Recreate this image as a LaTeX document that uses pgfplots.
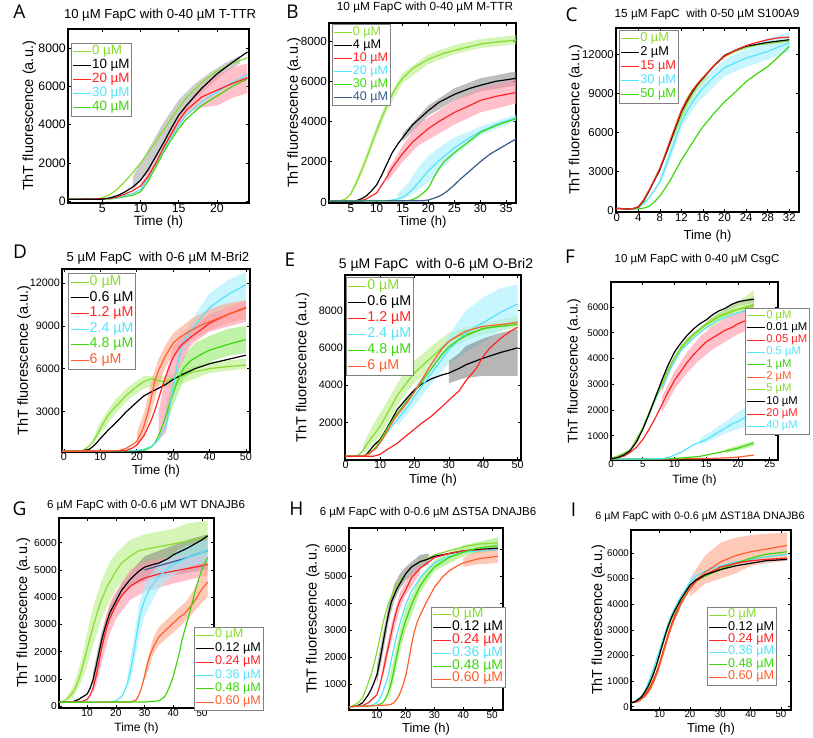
\documentclass[border=0pt]{standalone}
\usepackage{fontspec}
\setmainfont{Liberation Sans}
\newfontfamily\letterfont{Open Sans}
\usepackage{pgfplots}
\pgfplotsset{compat=1.18}
\definecolor{cLG}{RGB}{135,220,45}
\definecolor{cG}{RGB}{60,215,10}
\definecolor{cR}{RGB}{255,35,35}
\definecolor{cC}{RGB}{85,228,250}
\definecolor{cO}{RGB}{255,95,45}
\definecolor{cB}{RGB}{55,90,140}
\definecolor{bLG}{RGB}{185,238,135}
\definecolor{bK}{RGB}{110,110,110}
\definecolor{bR}{RGB}{255,150,168}
\definecolor{bC}{RGB}{165,238,255}
\definecolor{bO}{RGB}{255,165,135}
\definecolor{bG}{RGB}{150,235,110}
\pgfplotsset{
  panel/.style={scale only axis, anchor=north west, tick align=inside,
    axis line style={line width=1.1pt}, major tick length=3pt,
    every tick/.style={black, line width=0.6pt},
    /pgf/number format/assume math mode=true,
    /pgf/number format/1000 sep={},
    scaled y ticks=false, scaled x ticks=false,
    xticklabel style={inner sep=1pt},
    yticklabel style={inner sep=2pt},
    xlabel={Time (h)}, ylabel={ThT fluorescence (a.u.)},
    legend style={draw=gray, line width=0.7pt, fill=white, inner sep=1.5pt, cells={anchor=west}, row sep=0pt},
    legend image code/.code={\draw[##1, line width=0.9pt] (0pt,0pt) -- (18pt,0pt);},
  },
  tl/.style={ticklabel style={font=\fontsize{#1}{#1}\selectfont}},
  labs/.style n args={4}{xlabel style={font=\fontsize{#1}{#1}\selectfont, at={(axis description cs:0.5,-#4)}, anchor=center},
     ylabel style={font=\fontsize{#2}{#2}\selectfont, at={(axis description cs:-#3,0.5)}, anchor=center}},
  lg/.style n args={5}{legend style={at={(axis description cs:#1,#2)}, anchor=north west, font=\fontsize{#3}{#3}\selectfont, nodes={inner sep=0.6pt, text height=#4, text depth=#5}}},
  f/.style={forget plot, line width=1.2pt},
  bd/.style={forget plot, draw=none, fill=#1, fill opacity=0.6},
}
\begin{document}
\begin{tikzpicture}
\path[use as bounding box] (0pt,0pt) rectangle (813pt,738pt);
% panel letters
\node[font=\letterfont\fontsize{19}{19}\selectfont] at (19.5pt,726pt) {A};
\node[font=\letterfont\fontsize{19}{19}\selectfont] at (292.5pt,726pt) {B};
\node[font=\letterfont\fontsize{19}{19}\selectfont] at (571.5pt,723pt) {C};
\node[font=\letterfont\fontsize{19}{19}\selectfont] at (20pt,486.5pt) {D};
\node[font=\letterfont\fontsize{19}{19}\selectfont] at (290pt,478pt) {E};
\node[font=\letterfont\fontsize{19}{19}\selectfont] at (570pt,481pt) {F};
\node[font=\letterfont\fontsize{19}{19}\selectfont] at (19.5pt,229pt) {G};
\node[font=\letterfont\fontsize{19}{19}\selectfont] at (296.5pt,229.5pt) {H};
\node[font=\letterfont\fontsize{19}{19}\selectfont] at (573.5pt,228.5pt) {I};
% titles
\node[font=\fontsize{13.1}{13}\selectfont] at (160pt,723pt) {10 µM FapC with 0-40 µM T-TTR};
\node[font=\fontsize{11.8}{12}\selectfont] at (425pt,730.5pt) {10 µM FapC with 0-40 µM M-TTR};
\node[font=\fontsize{11.8}{12}\selectfont] at (707pt,724pt) {15 µM FapC\ \ with 0-50 µM S100A9};
\node[font=\fontsize{13.1}{13}\selectfont] at (158pt,480pt) {5 µM FapC\ \ with 0-6 µM M-Bri2};
\node[font=\fontsize{14}{14}\selectfont] at (436pt,473pt) {5 µM FapC\ \ with 0-6 µM O-Bri2};
\node[font=\fontsize{11.5}{12}\selectfont] at (697pt,478pt) {10 µM FapC with 0-40 µM CsgC};
\node[font=\fontsize{11.5}{12}\selectfont] at (146pt,232pt) {6 µM FapC with 0-0.6 µM WT DNAJB6};
\node[font=\fontsize{11.5}{12}\selectfont] at (428pt,225pt) {6 µM FapC with 0-0.6 µM ΔST5A DNAJB6};
\node[font=\fontsize{10.8}{11}\selectfont] at (700pt,221pt) {6 µM FapC with 0-0.6 µM ΔST18A DNAJB6};

%================ A
\begin{axis}[panel, at={(68pt,709pt)}, width=181pt, height=174pt,
  xmin=0.5, xmax=24.2, ymin=-90, ymax=9000, xtick={5,10,15,20}, ytick={0,2000,4000,6000,8000},
  tl=12.3, labs={13.4}{14.5}{0.213}{0.108}, lg={0.015}{0.921}{13.4}{9.2pt}{3.6pt}]
\addplot[bd=bK, fill opacity=0.35] coordinates {(9,1300)(11,2700)(13,4100)(15,5300)(17,6100)(19,6700)(21,7200)(23,7600)(23,7200)(21,6700)(19,6000)(17,5300)(15,4300)(13,2900)(11,1500)(9,600)};
\addplot[bd=bR] coordinates {(10,900)(12,2150)(14,3700)(16,5000)(17,5600)(18,6000)(20,6600)(22,7000)(24,7200)(24,5650)(22,5400)(20,5000)(18,4900)(17,4750)(16,4500)(14,3300)(12,1850)(10,700)};
\addplot[f,cLG] coordinates {(0.5,100)(4,120)(5,180)(6,350)(7,650)(8,1050)(9,1500)(10,2000)(11,2550)(12,3100)(13,3700)(14,4300)(15,4900)(16,5400)(18,6200)(20,6800)(22,7200)(24,7500)};
\addplot[f,cG] coordinates {(0.5,100)(6,120)(7,170)(8,250)(9,320)(10,500)(11,1050)(12,1800)(13,2550)(14,3200)(15,3800)(16,4300)(18,5000)(20,5500)(22,6000)(24,6400)};
\addplot[f,cC] coordinates {(0.5,100)(6,130)(7,200)(8,300)(9,420)(10,620)(11,1200)(12,2000)(13,2700)(14,3350)(15,3950)(16,4500)(18,5200)(20,5700)(22,6200)(24,6600)};
\addplot[f,cR] coordinates {(0.5,100)(6,140)(7,230)(8,380)(9,560)(10,800)(11,1300)(12,2000)(13,2800)(14,3500)(15,4200)(16,4750)(18,5450)(20,5800)(22,6150)(24,6450)};
\addplot[f,black] coordinates {(0.5,100)(5,110)(6,180)(7,300)(8,500)(9,750)(10,1100)(11,1650)(12,2350)(13,3050)(14,3800)(15,4500)(16,5000)(18,5900)(20,6650)(22,7250)(24,7800)};
\addlegendimage{cLG}\addlegendentry{\textcolor{cLG}{0 µM}}
\addlegendimage{black}\addlegendentry{10 µM}
\addlegendimage{cR}\addlegendentry{\textcolor{cR}{20 µM}}
\addlegendimage{cC}\addlegendentry{\textcolor{cC}{30 µM}}
\addlegendimage{cG}\addlegendentry{\textcolor{cG}{40 µM}}
\end{axis}

%================ B
\begin{axis}[panel, at={(329pt,715pt)}, width=187pt, height=180pt,
  xmin=0.8, xmax=36.9, ymin=-50, ymax=8900, xtick={5,10,...,35}, ytick={0,2000,4000,6000,8000},
  tl=11.7, labs={13}{14.5}{0.187}{0.104}, lg={0.014}{0.994}{12.6}{8.5pt}{3.3pt}]
\addplot[bd=bLG] coordinates {(5,500)(7,1700)(10,3800)(12,5050)(15,6400)(20,7350)(25,7800)(30,8100)(37,8300)(37,7850)(30,7650)(25,7350)(20,6850)(15,5900)(12,4550)(10,3300)(7,1300)(5,300)};
\addplot[bd=bK, fill opacity=0.45] coordinates {(15,3400)(20,4800)(25,5650)(30,6150)(37,6500)(37,5800)(30,5500)(25,5050)(20,4300)(15,3000)};
\addplot[bd=bR] coordinates {(12,1500)(15,2800)(18,3900)(20,4200)(25,5050)(30,5650)(37,6100)(37,4900)(30,4450)(25,3850)(20,3100)(18,2800)(15,2000)(12,1000)};
\addplot[bd=bC] coordinates {(14,400)(16,900)(18,1700)(20,2300)(22,2700)(25,3200)(30,3750)(37,4350)(37,4050)(30,3300)(25,2300)(22,1500)(20,1000)(18,600)(16,250)(14,80)};
\addplot[f,cLG] coordinates {(0.8,50)(3,60)(4,150)(5,400)(6,900)(7,1500)(8,2150)(9,2850)(10,3550)(11,4200)(12,4800)(13,5350)(14,5800)(15,6150)(17,6650)(20,7100)(23,7400)(26,7600)(30,7850)(33,7950)(37,8050)};
\addplot[f,black] coordinates {(0.8,50)(6,60)(7,150)(8,300)(9,550)(10,850)(11,1350)(12,1900)(13,2450)(14,2850)(15,3200)(17,3850)(20,4550)(22,4950)(25,5350)(28,5650)(30,5800)(33,6000)(37,6150)};
\addplot[f,cR] coordinates {(0.8,50)(7,60)(8,150)(9,300)(10,450)(11,850)(12,1250)(13,1700)(14,2050)(15,2400)(17,3000)(20,3650)(22,4000)(25,4450)(28,4800)(30,5050)(33,5250)(37,5450)};
\addplot[f,cC] coordinates {(0.8,50)(12,60)(13,100)(14,150)(15,220)(16,400)(17,650)(18,950)(19,1250)(20,1550)(22,2050)(25,2700)(28,3200)(30,3500)(33,3850)(37,4200)};
\addplot[f,cG] coordinates {(0.8,50)(16,60)(17,120)(18,250)(19,450)(20,700)(21,1200)(22,1650)(23,2000)(25,2450)(28,3050)(30,3450)(33,3800)(37,4150)};
\addplot[f,cB] coordinates {(0.8,50)(19,60)(20,100)(21,180)(22,280)(23,420)(24,620)(25,850)(26,1100)(28,1550)(30,2000)(32,2400)(35,2850)(37,3150)};
\addlegendimage{cLG}\addlegendentry{\textcolor{cLG}{0 µM}}
\addlegendimage{black}\addlegendentry{4 µM}
\addlegendimage{cR}\addlegendentry{\textcolor{cR}{10 µM}}
\addlegendimage{cC}\addlegendentry{\textcolor{cC}{20 µM}}
\addlegendimage{cG}\addlegendentry{\textcolor{cG}{30 µM}}
\addlegendimage{cB}\addlegendentry{\textcolor{cB}{40 µM}}
\end{axis}

%================ C
\begin{axis}[panel, at={(616pt,710pt)}, width=183pt, height=184pt,
  xmin=-0.13, xmax=33.8, ymin=-77, ymax=14000, xtick={0,4,...,32}, ytick={0,3000,6000,9000,12000},
  tl=11.4, labs={13}{14.5}{0.221}{0.133}, lg={0.016}{0.989}{12.8}{9.3pt}{3.5pt}]
\addplot[bd=bC] coordinates {(8,2600)(10,4900)(12,7300)(14,8900)(16,10100)(20,11600)(24,12400)(28,13200)(32,13700)(32,12200)(28,11600)(24,11000)(20,10300)(16,8700)(14,7700)(12,6300)(10,4000)(8,1900)};
\addplot[bd=bLG] coordinates {(9,4400)(11,6800)(13,8800)(15,9800)(17,10800)(17,10200)(15,9300)(13,7900)(11,6000)(9,3900)};
\addplot[f,cG] coordinates {(-0.1,200)(3,150)(4,170)(5,220)(6,350)(7,700)(8,1150)(9,1750)(10,2400)(11,3150)(12,3900)(13,4550)(14,5200)(15,5850)(16,6450)(18,7450)(20,8350)(22,9100)(24,9900)(26,10500)(28,11050)(30,11800)(32,12600)};
\addplot[f,cC] coordinates {(-0.1,200)(3,150)(4,250)(5,550)(6,1000)(7,1600)(8,2250)(9,3300)(10,4450)(11,5650)(12,6800)(13,7600)(14,8300)(15,8900)(16,9400)(18,10250)(20,10950)(22,11350)(24,11700)(26,11950)(28,12200)(30,12550)(32,12850)};
\addplot[f,cLG] coordinates {(-0.1,200)(1,180)(2,150)(3,170)(4,300)(5,700)(6,1500)(7,2400)(8,3300)(9,4300)(10,5300)(11,6300)(12,7300)(13,8200)(14,8900)(15,9600)(16,10200)(18,11100)(20,11800)(22,12200)(24,12500)(26,12700)(28,12800)(30,12900)(32,13000)};
\addplot[f,black] coordinates {(-0.1,200)(2,150)(3,180)(4,300)(5,800)(6,1550)(7,2350)(8,3150)(9,4250)(10,5350)(11,6500)(12,7600)(13,8400)(14,9100)(15,9700)(16,10150)(18,11100)(20,11900)(22,12300)(24,12600)(26,12750)(28,12900)(30,13000)(32,13100)};
\addplot[f,cR] coordinates {(-0.1,200)(2,150)(3,180)(4,320)(5,850)(6,1600)(7,2400)(8,3250)(9,4350)(10,5500)(11,6600)(12,7700)(13,8500)(14,9200)(15,9750)(16,10200)(18,11100)(20,11850)(22,12300)(24,12650)(26,12900)(28,13100)(30,13250)(32,13300)};
\addlegendimage{cLG}\addlegendentry{\textcolor{cLG}{0 µM}}
\addlegendimage{black}\addlegendentry{2 µM}
\addlegendimage{cR}\addlegendentry{\textcolor{cR}{15 µM}}
\addlegendimage{cC}\addlegendentry{\textcolor{cC}{30 µM}}
\addlegendimage{cG}\addlegendentry{\textcolor{cG}{50 µM}}
\end{axis}

%================ D
\begin{axis}[panel, at={(62pt,469pt)}, width=188pt, height=183pt,
  xmin=-0.55, xmax=51.1, ymin=150, ymax=13000, xtick={0,10,...,50}, ytick={3000,6000,9000,12000},
  tl=10.8, labs={13}{14.5}{0.202}{0.107}, lg={0.034}{0.980}{14.2}{10.4pt}{4pt}]
\addplot[bd=bLG] coordinates {(8,1100)(10,2300)(14,3800)(18,4800)(22,5500)(25,5500)(28,5500)(32,5900)(40,6500)(50,6700)(50,6000)(40,5700)(32,4900)(28,4700)(25,4800)(22,4600)(18,3900)(14,2800)(10,1400)(8,700)};
\addplot[bd=bC] coordinates {(28,2600)(30,5400)(32,8000)(35,9400)(40,11300)(45,12200)(50,12800)(50,10800)(45,10300)(40,9400)(35,8000)(32,6600)(30,4000)(28,1500)};
\addplot[bd=bG] coordinates {(28,3400)(30,5200)(33,6900)(36,7800)(40,8300)(45,8800)(50,9000)(50,7100)(45,6900)(40,6500)(36,6000)(33,5300)(30,3400)(28,2000)};
\addplot[bd=bO] coordinates {(20,1500)(22,2900)(24,5100)(26,6700)(28,7700)(30,8500)(35,9500)(40,10200)(45,10600)(50,10800)(50,9500)(45,9200)(40,8700)(35,8000)(30,7000)(28,6200)(26,4800)(24,3000)(22,1300)(20,500)};
\addplot[bd=bR] coordinates {(26,3000)(28,5500)(30,7600)(35,8900)(40,9800)(50,10800)(50,9300)(40,8600)(35,7700)(30,5200)(28,1500)(26,1000)};
\addplot[f,cLG] coordinates {(-0.5,200)(5,250)(6,400)(7,600)(8,900)(9,1300)(10,1800)(12,2700)(14,3300)(15,3550)(17,4100)(20,4750)(22,5100)(24,5300)(26,5150)(28,5100)(30,5300)(33,5550)(36,5800)(40,6000)(45,6150)(50,6250)};
\addplot[f,black] coordinates {(-0.5,200)(5,220)(7,350)(8,550)(9,800)(10,1100)(12,1650)(14,2150)(15,2400)(17,2950)(20,3650)(22,4100)(25,4500)(28,4900)(30,5250)(33,5650)(36,6000)(40,6350)(45,6650)(50,6950)};
\addplot[f,cG] coordinates {(-0.5,200)(22,250)(24,500)(25,800)(26,1300)(27,1950)(28,2700)(29,3500)(30,4300)(31,5000)(33,6100)(35,6600)(38,7050)(40,7300)(45,7700)(50,8050)};
\addplot[f,cC] coordinates {(-0.5,200)(20,250)(22,350)(24,550)(25,750)(26,1050)(27,1500)(28,2000)(29,3200)(30,4700)(31,6100)(32,7300)(33,8000)(35,8700)(38,9700)(40,10300)(45,11200)(50,11900)};
\addplot[f,cR] coordinates {(-0.5,200)(17,250)(19,450)(20,650)(22,1300)(24,2400)(25,3100)(26,3900)(27,4750)(28,5500)(29,6200)(30,6800)(32,7600)(35,8250)(38,8800)(40,9200)(45,9800)(50,10300)};
\addplot[f,cO] coordinates {(-0.5,200)(15,250)(17,400)(19,700)(20,900)(21,1400)(22,2000)(23,2900)(24,4000)(25,5200)(26,5900)(28,6950)(30,7800)(32,8250)(35,8700)(38,9100)(40,9300)(45,9800)(50,10250)};
\addlegendimage{cLG}\addlegendentry{\textcolor{cLG}{0 µM}}
\addlegendimage{black}\addlegendentry{0.6 µM}
\addlegendimage{cR}\addlegendentry{\textcolor{cR}{1.2 µM}}
\addlegendimage{cC}\addlegendentry{\textcolor{cC}{2.4 µM}}
\addlegendimage{cG}\addlegendentry{\textcolor{cG}{4.8 µM}}
\addlegendimage{cO}\addlegendentry{\textcolor{cO}{6 µM}}
\end{axis}

%================ E
\begin{axis}[panel, at={(345pt,463pt)}, width=176pt, height=185pt,
  xmin=-0.2, xmax=51, ymin=0, ymax=9900, xtick={0,10,...,50}, ytick={2000,4000,6000,8000},
  tl=10.8, labs={13}{14.5}{0.241}{0.111}, lg={0.006}{0.991}{14.2}{10.6pt}{4.1pt}]
\addplot[bd=bLG] coordinates {(5,800)(8,1900)(10,2500)(12,3100)(15,4100)(18,4900)(20,5300)(25,6100)(30,6800)(35,7100)(40,7300)(50,7700)(50,7100)(40,6700)(35,6400)(30,5900)(25,5000)(20,4100)(18,3700)(15,2900)(12,1900)(10,1300)(8,900)(5,300)};
\addplot[bd=bC] coordinates {(15,2500)(20,3900)(25,5200)(30,6700)(33,7500)(35,8000)(40,8700)(45,9200)(50,9400)(50,7300)(45,6900)(40,6300)(35,5800)(33,5500)(30,5200)(25,4100)(20,2900)(15,1800)};
\addplot[bd=bK, fill opacity=0.5] coordinates {(30,5300)(33,5700)(35,6100)(40,6500)(45,6800)(50,7000)(50,4500)(45,4500)(40,4500)(35,4400)(33,4300)(30,4100)};
\addplot[f,cLG] coordinates {(-0.2,200)(3,200)(4,300)(5,500)(6,800)(8,1300)(10,1800)(12,2450)(15,3450)(18,4200)(20,4650)(22,5000)(25,5500)(28,6000)(30,6350)(33,6650)(35,6750)(40,7000)(45,7200)(50,7400)};
\addplot[f,black] coordinates {(-0.2,200)(5,200)(6,300)(7,500)(8,750)(10,1100)(12,1700)(15,2700)(18,3350)(20,3750)(22,4050)(25,4350)(28,4550)(30,4650)(33,4900)(35,5100)(40,5450)(45,5750)(50,6000)};
\addplot[f,cC] coordinates {(-0.2,200)(5,200)(7,350)(9,700)(11,1200)(13,1700)(15,2150)(18,2850)(20,3400)(22,3900)(25,4650)(28,5400)(30,5900)(33,6450)(35,6800)(38,7150)(40,7350)(45,7900)(50,8350)};
\addplot[f,cG] coordinates {(-0.2,200)(5,200)(7,350)(9,750)(11,1350)(13,1950)(15,2500)(18,3200)(20,3650)(22,4150)(25,4900)(28,5650)(30,6050)(33,6450)(35,6650)(40,7050)(45,7150)(50,7250)};
\addplot[f,cO] coordinates {(-0.2,200)(5,200)(7,350)(9,650)(11,1200)(13,1850)(15,2400)(18,3100)(20,3650)(22,4250)(25,5150)(28,5950)(30,6350)(33,6700)(35,6900)(40,7150)(45,7250)(50,7350)};
\addplot[f,cR] coordinates {(-0.2,200)(8,200)(10,300)(12,550)(15,900)(18,1350)(20,1650)(22,1950)(25,2350)(28,2850)(30,3200)(33,3700)(35,4250)(38,4900)(40,5550)(42,6000)(45,6500)(48,6900)(50,7100)};
\addlegendimage{cLG}\addlegendentry{\textcolor{cLG}{0 µM}}
\addlegendimage{black}\addlegendentry{0.6 µM}
\addlegendimage{cR}\addlegendentry{\textcolor{cR}{1.2 µM}}
\addlegendimage{cC}\addlegendentry{\textcolor{cC}{2.4 µM}}
\addlegendimage{cG}\addlegendentry{\textcolor{cG}{4.8 µM}}
\addlegendimage{cO}\addlegendentry{\textcolor{cO}{6 µM}}
\end{axis}

%================ F
\begin{axis}[panel, at={(611pt,456pt)}, width=167pt, height=178pt,
  xmin=0, xmax=26.3, ymin=58, ymax=6970, xtick={0,5,...,25}, ytick={1000,2000,...,6000},
  tl=9.6, labs={12}{14}{0.222}{0.112}, lg={0.802}{0.856}{11.3}{8pt}{3.1pt}]
\addplot[bd=bK, fill opacity=0.4] coordinates {(8,2900)(10,4100)(12,4800)(14,5200)(16,5600)(18,5900)(20,6200)(22.5,6400)(22.5,6150)(20,6050)(18,5800)(16,5500)(14,5100)(12,4700)(10,3900)(8,2700)};
\addplot[bd=bLG] coordinates {(15,5500)(18,5950)(20,6200)(22.5,6650)(22.5,5900)(20,5750)(18,5550)(15,5100)};
\addplot[bd=bR] coordinates {(8,2500)(10,3500)(12,4250)(14,4850)(16,5250)(18,5550)(20,5800)(22.5,6050)(22.5,5200)(20,4950)(18,4650)(16,4350)(14,3950)(12,3450)(10,2800)(8,1900)};
\addplot[bd=bC] coordinates {(14,900)(16,1200)(18,1550)(20,1900)(22.5,2350)(22.5,1500)(20,1250)(18,1100)(16,850)(14,650)};
\addplot[bd=bG] coordinates {(18,470)(20,620)(22.5,800)(22.5,600)(20,430)(18,330)};
\addplot[f,cO] coordinates {(0,100)(10,100)(15,110)(18,140)(20,170)(22.5,250)};
\addplot[f,cG] coordinates {(0,100)(5,100)(8,100)(10,120)(12,150)(14,200)(16,300)(18,400)(20,520)(22.5,720)};
\addplot[f,cC] coordinates {(0,100)(5,100)(8,110)(9,150)(10,250)(11,350)(12,500)(13,650)(14,750)(15,850)(16,1000)(17,1150)(18,1300)(19,1450)(20,1550)(21,1700)(22.5,1900)};
\addplot[f,cC] coordinates {(0,100)(3,400)(5,1250)(7,2400)(9,3450)(11,4300)(13,4800)(15,5200)(17,5500)(19,5700)(22.5,5950)};
\addplot[f,cR] coordinates {(0,100)(2,200)(3,350)(4,550)(5,850)(6,1250)(7,1700)(8,2200)(9,2700)(10,3150)(11,3500)(12,3850)(13,4150)(14,4400)(15,4650)(16,4800)(17,4950)(18,5100)(19,5200)(20,5350)(21,5450)(22.5,5600)};
\addplot[f,cLG] coordinates {(0,100)(1,150)(2,250)(3,450)(4,800)(5,1300)(6,1850)(7,2450)(8,3000)(9,3550)(10,4050)(11,4400)(12,4650)(13,4900)(14,5100)(15,5300)(16,5450)(17,5600)(18,5700)(19,5800)(20,5900)(21,5950)(22.5,6050)};
\addplot[f,cLG] coordinates {(0,100)(3,430)(5,1300)(7,2500)(9,3600)(11,4450)(13,4950)(15,5350)(17,5650)(19,5850)(22.5,6100)};
\addplot[f,black] coordinates {(0,100)(1,150)(2,250)(3,420)(4,750)(5,1250)(6,1850)(7,2500)(8,3150)(9,3750)(10,4250)(11,4600)(12,4900)(13,5150)(14,5350)(15,5500)(16,5700)(17,5850)(18,5950)(19,6100)(20,6200)(21,6250)(22.5,6300)};
\addlegendimage{cLG}\addlegendentry{\textcolor{cLG}{0 µM}}
\addlegendimage{black}\addlegendentry{0.01 µM}
\addlegendimage{cR}\addlegendentry{\textcolor{cR}{0.05 µM}}
\addlegendimage{cC}\addlegendentry{\textcolor{cC}{0.5 µM}}
\addlegendimage{cG}\addlegendentry{\textcolor{cG}{1 µM}}
\addlegendimage{cO}\addlegendentry{\textcolor{cO}{2 µM}}
\addlegendimage{cLG}\addlegendentry{\textcolor{cLG}{5 µM}}
\addlegendimage{black}\addlegendentry{10 µM}
\addlegendimage{cR}\addlegendentry{\textcolor{cR}{20 µM}}
\addlegendimage{cC}\addlegendentry{\textcolor{cC}{40 µM}}
\end{axis}

%================ G
\begin{axis}[panel, at={(59pt,220pt)}, width=155pt, height=190pt,
  xmin=0.2, xmax=54.2, ymin=-60, ymax=6900, xtick={10,20,...,50}, ytick={0,1000,...,6000},
  tl=10.2, labs={12}{14.5}{0.230}{0.109}, lg={0.869}{0.428}{12.6}{8.8pt}{3.4pt}]
\addplot[bd=bLG] coordinates {(3,350)(5,700)(8,1700)(10,2700)(12,3600)(15,4600)(18,5300)(20,5600)(25,6100)(30,6300)(35,6400)(40,6500)(45,6700)(52,6800)(52,5600)(45,5500)(40,5400)(35,5300)(30,5200)(25,4900)(20,4300)(18,3900)(15,3200)(12,2200)(10,1500)(8,900)(5,300)(3,200)};
\addplot[bd=bK, fill opacity=0.45] coordinates {(12,1200)(15,2700)(18,3700)(22,4500)(25,4900)(30,5500)(35,5700)(40,5900)(45,6100)(52,6300)(52,5000)(45,4900)(40,4800)(35,4700)(30,4600)(25,4400)(22,4000)(18,3200)(15,2100)(12,700)};
\addplot[bd=bR] coordinates {(12,900)(14,2000)(16,3100)(18,3800)(20,4200)(25,5000)(30,5300)(35,5400)(40,5500)(52,5500)(52,4800)(40,4500)(35,4350)(30,4200)(25,3900)(20,3200)(18,2700)(16,2000)(14,1100)(12,400)};
\addplot[bd=bC] coordinates {(24,1100)(26,2300)(28,3700)(30,4500)(35,5200)(40,5600)(45,5900)(52,6100)(52,5300)(45,5100)(40,4800)(35,4300)(30,3300)(28,2500)(26,1300)(24,600)};
\addplot[bd=bO] coordinates {(30,1300)(33,2500)(35,2900)(40,3400)(45,3900)(50,4800)(52,5100)(52,4000)(50,3800)(45,3200)(40,2700)(35,2250)(33,1900)(30,900)};
\addplot[f,cLG] coordinates {(0.2,150)(2,200)(3,280)(4,380)(5,500)(6,700)(7,950)(8,1300)(9,1700)(10,2100)(11,2500)(12,2900)(13,3250)(14,3600)(15,3900)(17,4400)(20,4950)(22,5250)(25,5500)(28,5700)(30,5750)(35,5850)(40,5950)(45,6050)(50,6150)(52,6200)};
\addplot[f,black] coordinates {(0.2,150)(5,170)(7,250)(8,320)(10,450)(11,650)(12,950)(13,1400)(14,1900)(15,2400)(16,2800)(17,3150)(18,3450)(20,3850)(22,4250)(25,4650)(28,4950)(30,5100)(33,5200)(35,5250)(38,5400)(40,5550)(45,5800)(50,6100)(52,6250)};
\addplot[f,cB] coordinates {(30,5000)(35,5150)(40,5300)(45,5450)(50,5650)(52,5700)};
\addplot[f,cR] coordinates {(0.2,150)(8,170)(10,250)(11,400)(12,650)(13,1050)(14,1550)(15,2100)(16,2550)(17,2950)(18,3250)(20,3700)(22,4050)(25,4400)(28,4600)(30,4700)(35,4850)(40,4950)(45,5050)(50,5150)(52,5200)};
\addplot[f,cC] coordinates {(0.2,150)(18,160)(20,200)(22,350)(23,550)(24,850)(25,1250)(26,1800)(27,2450)(28,3100)(29,3550)(30,3900)(32,4350)(35,4750)(38,5050)(40,5200)(45,5450)(50,5650)(52,5700)};
\addplot[f,cO] coordinates {(0.2,150)(25,160)(27,220)(28,400)(29,700)(30,1100)(31,1550)(32,1900)(33,2150)(35,2550)(37,2750)(40,3050)(42,3250)(44,3400)(46,3650)(48,3950)(50,4300)(52,4550)};
\addplot[f,cG] coordinates {(0.2,150)(30,160)(35,200)(37,350)(38,550)(39,800)(40,1100)(41,1500)(42,1900)(43,2400)(44,2800)(45,3150)(46,3550)(47,3950)(48,4350)(49,4700)(50,5000)(51,5250)(52,5450)};
\addlegendimage{cLG}\addlegendentry{\textcolor{cLG}{0 µM}}
\addlegendimage{black}\addlegendentry{0.12 µM}
\addlegendimage{cR}\addlegendentry{\textcolor{cR}{0.24 µM}}
\addlegendimage{cC}\addlegendentry{\textcolor{cC}{0.36 µM}}
\addlegendimage{cG}\addlegendentry{\textcolor{cG}{0.48 µM}}
\addlegendimage{cO}\addlegendentry{\textcolor{cO}{0.60 µM}}
\end{axis}

%================ H
\begin{axis}[panel, at={(349pt,210pt)}, width=154pt, height=182pt,
  xmin=0.3, xmax=53.8, ymin=33, ymax=6800, xtick={10,20,...,50}, ytick={1000,2000,...,6000},
  tl=10, labs={13}{14.5}{0.234}{0.104}, lg={0.531}{0.568}{14}{8.4pt}{3.3pt}]
\addplot[bd=bK, fill opacity=0.5] coordinates {(10,1700)(12,2800)(14,3900)(16,4700)(18,5100)(20,5350)(25,5800)(28,5850)(28,5450)(25,5300)(20,4850)(18,4550)(16,4100)(14,3300)(12,2100)(10,1000)};
\addplot[bd=bG] coordinates {(14,1100)(16,2000)(18,3000)(20,3800)(25,5000)(30,5600)(40,6150)(52,6450)(52,6000)(40,5750)(30,5200)(25,4400)(20,3000)(18,2200)(16,1200)(14,400)};
\addplot[bd=bR] coordinates {(12,1700)(15,3200)(18,4400)(20,4800)(25,5500)(25,5100)(20,4300)(18,3800)(15,2600)(12,1200)};
\addplot[bd=bO] coordinates {(40,5700)(45,5950)(52,6100)(52,5500)(45,5450)(40,5350)};
\addplot[f,cLG] coordinates {(0.3,150)(2,200)(4,350)(5,500)(6,750)(7,1050)(8,1350)(9,1750)(10,2200)(11,2700)(12,3200)(13,3650)(14,4000)(15,4250)(17,4700)(20,5100)(22,5350)(25,5550)(30,5800)(35,5950)(40,6100)(45,6200)(52,6250)};
\addplot[f,black] coordinates {(0.3,150)(3,180)(5,300)(6,450)(7,600)(8,800)(9,1050)(10,1350)(11,1850)(12,2450)(13,3050)(14,3600)(15,4050)(17,4550)(20,5100)(22,5350)(25,5550)(28,5650)(30,5750)(35,5850)(40,5950)(45,6000)(52,6050)};
\addplot[f,cR] coordinates {(0.3,150)(5,200)(7,300)(8,400)(9,500)(10,600)(11,950)(12,1400)(13,1900)(14,2400)(15,2900)(16,3400)(17,3800)(18,4100)(20,4500)(22,4950)(25,5300)(30,5700)(35,5850)(40,5950)(52,6000)};
\addplot[f,cC] coordinates {(0.3,150)(8,200)(10,300)(11,450)(12,700)(13,1000)(14,1350)(15,1900)(16,2400)(17,2850)(18,3250)(20,3950)(22,4450)(25,4950)(28,5300)(30,5500)(35,5750)(40,5900)(52,6000)};
\addplot[f,cG] coordinates {(0.3,150)(10,200)(12,300)(13,450)(14,700)(15,1050)(16,1550)(17,2100)(18,2600)(19,3000)(20,3350)(22,3950)(25,4650)(28,5100)(30,5350)(35,5700)(40,5900)(45,6050)(52,6150)};
\addplot[f,cO] coordinates {(0.3,150)(10,200)(14,220)(15,250)(16,320)(17,450)(18,650)(19,950)(20,1300)(21,1850)(22,2450)(23,2950)(24,3300)(25,3550)(27,4000)(30,4600)(33,5000)(35,5200)(38,5400)(40,5500)(45,5650)(52,5750)};
\addlegendimage{cLG}\addlegendentry{\textcolor{cLG}{0 µM}}
\addlegendimage{black}\addlegendentry{0.12 µM}
\addlegendimage{cR}\addlegendentry{\textcolor{cR}{0.24 µM}}
\addlegendimage{cC}\addlegendentry{\textcolor{cC}{0.36 µM}}
\addlegendimage{cG}\addlegendentry{\textcolor{cG}{0.48 µM}}
\addlegendimage{cO}\addlegendentry{\textcolor{cO}{0.60 µM}}
\end{axis}

%================ I
\begin{axis}[panel, at={(631pt,208pt)}, width=160pt, height=180pt,
  xmin=0.57, xmax=53.3, ymin=-130, ymax=6900, xtick={10,20,...,50}, ytick={0,1000,...,6000},
  tl=9.7, labs={13}{14.5}{0.204}{0.106}, lg={0.473}{0.571}{12.7}{8.1pt}{3.1pt}]
\addplot[bd=bO] coordinates {(20,5000)(25,5900)(30,6400)(35,6600)(40,6700)(45,6750)(52,6800)(52,5700)(45,5600)(40,5500)(35,5200)(30,5000)(25,4800)(20,4300)};
\addplot[bd=bC] coordinates {(15,3700)(18,4500)(20,5000)(22,5300)(22,4900)(20,4600)(18,4100)(15,3400)};
\addplot[f,cLG] coordinates {(0.6,150)(2,200)(4,350)(5,500)(6,700)(7,950)(8,1250)(9,1600)(10,2000)(11,2400)(12,2800)(13,3150)(14,3450)(15,3700)(17,4150)(20,4700)(22,4950)(25,5150)(30,5400)(35,5600)(40,5750)(45,5850)(52,5950)};
\addplot[f,cC] coordinates {(0.6,150)(2,220)(4,400)(5,600)(6,850)(7,1150)(8,1500)(9,1850)(10,2200)(11,2600)(12,2950)(13,3300)(14,3600)(15,3850)(17,4300)(20,4850)(22,5100)(25,5300)(30,5500)(35,5650)(40,5750)(45,5850)(52,5950)};
\addplot[f,cG] coordinates {(0.6,150)(3,200)(5,400)(6,550)(7,750)(8,1000)(9,1300)(10,1650)(11,2050)(12,2450)(13,2850)(14,3200)(15,3500)(17,4050)(20,4650)(22,4900)(25,5100)(30,5350)(35,5600)(40,5800)(45,5950)(52,6050)};
\addplot[f,cR] coordinates {(0.6,150)(3,220)(5,450)(6,600)(7,800)(8,1050)(9,1350)(10,1700)(11,2100)(12,2500)(13,2900)(14,3250)(15,3550)(17,4050)(20,4600)(22,4900)(25,5150)(30,5450)(35,5600)(40,5700)(45,5750)(52,5800)};
\addplot[f,cO] coordinates {(0.6,150)(3,200)(5,380)(6,520)(7,700)(8,950)(9,1250)(10,1600)(11,2000)(12,2400)(13,2800)(14,3150)(15,3450)(17,4000)(20,4650)(22,4950)(25,5250)(30,5650)(35,5900)(40,6050)(45,6150)(52,6300)};
\addplot[f,black] coordinates {(0.6,150)(2,200)(4,380)(5,550)(6,750)(7,1000)(8,1300)(9,1650)(10,2050)(11,2450)(12,2850)(13,3200)(14,3500)(15,3750)(17,4200)(20,4750)(22,4950)(25,5150)(30,5350)(35,5500)(40,5600)(45,5700)(52,5750)};
\addlegendimage{cLG}\addlegendentry{\textcolor{cLG}{0 µM}}
\addlegendimage{black}\addlegendentry{0.12 µM}
\addlegendimage{cR}\addlegendentry{\textcolor{cR}{0.24 µM}}
\addlegendimage{cC}\addlegendentry{\textcolor{cC}{0.36 µM}}
\addlegendimage{cG}\addlegendentry{\textcolor{cG}{0.48 µM}}
\addlegendimage{cO}\addlegendentry{\textcolor{cO}{0.60 µM}}
\end{axis}
\end{tikzpicture}
\end{document}
